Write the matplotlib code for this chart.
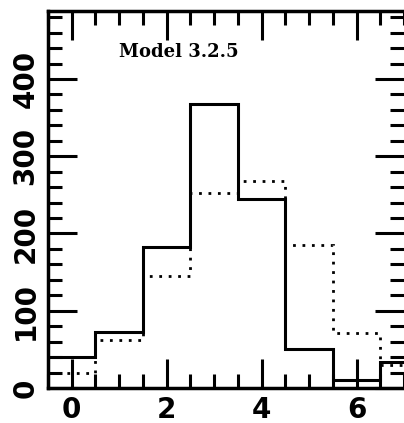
import numpy as np
import matplotlib.pyplot as plt
from matplotlib.ticker import MultipleLocator

# bin centres and counts
bins = [0, 1, 2, 3, 4, 5, 6, 7]
solid_counts = [40, 72, 183, 368, 245, 50, 11, 34]
dotted_counts = [19, 62, 145, 252, 268, 185, 71, 30]
xticks = [0, 2, 4, 6]
yticks = [0, 100, 200, 300, 400]

fig = plt.figure(figsize=(4.04, 4.23), dpi=100)
ax = fig.add_axes([48 / 404, 35 / 423, 356 / 404, 377 / 423])

edges = np.append(np.array(bins) - 0.5, bins[-1] + 0.5)
ax.stairs(solid_counts, edges, color='black', linewidth=2.2, baseline=None)
ax.stairs(dotted_counts, edges, color='black', linewidth=2.0,
          linestyle=(0, (1, 2.4)), baseline=None)

ax.set_xlim(-0.5, 7.0)
ax.set_ylim(0, 488)

ax.set_xticks(xticks)
ax.xaxis.set_minor_locator(MultipleLocator(0.5))
ax.set_yticks(yticks)
ax.yaxis.set_minor_locator(MultipleLocator(20))

ax.tick_params(which='both', direction='in', top=True, right=True,
               width=2.2, color='black')
ax.tick_params(which='major', length=21, pad=6)
ax.tick_params(which='minor', length=10)

for lab in ax.get_xticklabels():
    lab.set_fontsize(20)
    lab.set_fontweight('bold')
for lab in ax.get_yticklabels():
    lab.set_fontsize(20)
    lab.set_fontweight('bold')
    lab.set_rotation(90)
    lab.set_verticalalignment('center')

for sp in ax.spines.values():
    sp.set_linewidth(2.5)
# the right frame line sits just outside the cropped picture
ax.spines['right'].set_visible(False)

ax.text(0.2, 0.89, 'Model 3.2.5', transform=ax.transAxes, fontsize=13,
        fontweight='bold', family='DejaVu Serif', ha='left', va='center')

fig.savefig('out.png', dpi=100)
